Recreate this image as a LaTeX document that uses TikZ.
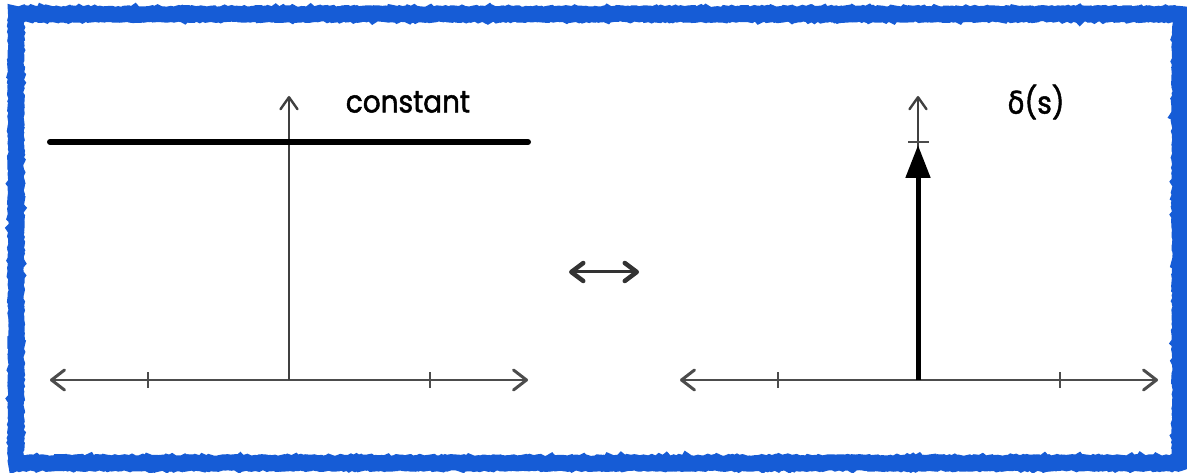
\documentclass[tikz,border=0pt]{standalone}
\usepackage{fontspec}
\setmainfont{Poppins}[FakeStretch=0.9,FakeBold=1.6,BoldFont=Poppins]
\newfontfamily\greekfont{DejaVu Sans}[FakeStretch=0.9,FakeBold=1.2,BoldFont=DejaVu Sans]
\usetikzlibrary{arrows.meta,decorations.pathmorphing}
\definecolor{frameblue}{RGB}{22,92,214}

\begin{document}
\begin{tikzpicture}[
		x=1pt, y=-1pt,
		axis/.style={draw=black!70, line width=1.6pt,
				{Straight Barb[length=13pt,width=20pt,line width=3pt,round]}-{Straight Barb[length=13pt,width=20pt,line width=3pt,round]}},
		upaxis/.style={draw=black!75, line width=1.4pt, -{Straight Barb[length=12pt,width=17pt,line width=2.4pt,round]}},
		tickmark/.style={draw=black!70, line width=1.6pt},
		signal/.style={draw=black, line width=6pt, line cap=round},
		impulse/.style={draw=black, line width=5pt, -{Triangle[length=33pt,width=24pt]}},
		swap/.style={draw=black!80, line width=3pt,
				{Straight Barb[length=12pt,width=18pt,line width=4.5pt,round]}-{Straight Barb[length=12pt,width=18pt,line width=4.5pt,round]}},
		frame/.style={draw=frameblue, line width=16pt,
				decorate, decoration={random steps, segment length=2pt, amplitude=0.9pt}},
		fnlabel/.style={font=\fontsize{31}{34}\selectfont\bfseries, inner sep=0pt}
	]
	\useasboundingbox (0,0) rectangle (1187,473);

	% rough blue frame
	\draw[frame] (16,14) -- (1180,14) -- (1180,463) -- (16,463) -- cycle;

	% left: constant
	\coordinate (lwest) at (50,380);
	\coordinate (least) at (528,380);
	\coordinate (lorigin) at (289,380);
	\coordinate (ltop) at (289,96);
	\draw[axis] (lwest) -- (least);
	\draw[upaxis] (lorigin) -- (ltop);
	\foreach \x in {148,430}
	\draw[tickmark] (\x,372) -- (\x,388);
	\coordinate (cstart) at (50,142);
	\coordinate (cend) at (528,142);
	\draw[signal] (cstart) -- (cend);
	\node[fnlabel] (constant) at (408,102) {constant};

	% middle: transform pair
	\coordinate (swapl) at (569,272);
	\coordinate (swapr) at (639,272);
	\draw[swap] (swapl) -- (swapr);

	% right: delta
	\coordinate (rwest) at (680,380);
	\coordinate (reast) at (1158,380);
	\coordinate (rorigin) at (918,380);
	\coordinate (rtop) at (918,96);
	\coordinate (rpeak) at (918,145);
	\draw[axis] (rwest) -- (reast);
	\draw[upaxis] (rorigin) -- (rtop);
	\foreach \x in {778,1060}
	\draw[tickmark] (\x,372) -- (\x,388);
	\draw[tickmark] (908,142) -- (929,142);
	\draw[impulse] (rorigin) -- (rpeak);
	\node[fnlabel] (delta) at (1036,102) {{\greekfont\bfseries δ}(s)};
\end{tikzpicture}
\end{document}
